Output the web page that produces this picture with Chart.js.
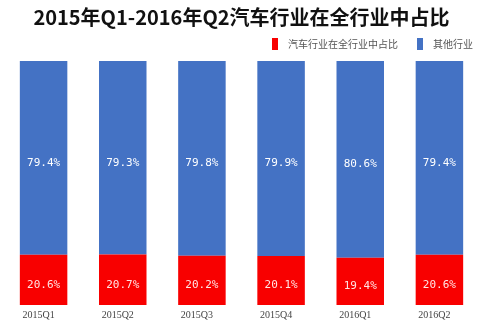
<!DOCTYPE html>
<html><head><meta charset="utf-8">
<script src="https://cdn.jsdelivr.net/npm/chart.js@4/dist/chart.umd.min.js"></script>
<style>html,body{margin:0;padding:0;background:#fff}#wrap{width:484px;height:324px}</style>
</head><body><div id="wrap"><canvas id="c" width="484" height="324"></canvas></div>
<script>
const categories = ['2015Q1','2015Q2','2015Q3','2015Q4','2016Q1','2016Q2'];
const autoShare = [20.6, 20.7, 20.2, 20.1, 19.4, 20.6];
const otherShare = [79.4, 79.3, 79.8, 79.9, 80.6, 79.4];
const seriesNames = ['汽车行业在全行业中占比', '其他行业'];
const seriesColors = ['#f80000', '#4472c4'];
const titleText = '2015年Q1-2016年Q2汽车行业在全行业中占比';

const labelPlugin = {
  id: 'barLabels',
  afterDatasetsDraw(chart) {
    const ctx = chart.ctx;
    ctx.save();
    ctx.font = '11px "DejaVu Sans Mono", monospace';
    ctx.textAlign = 'center';
    ctx.textBaseline = 'middle';
    chart.data.datasets.forEach((ds, di) => {
      const meta = chart.getDatasetMeta(di);
      meta.data.forEach((bar, i) => {
        const p = bar.getProps(['x','y','base'], true);
        ctx.fillStyle = di === 0 ? '#ffe4e4' : '#ffffff';
        ctx.fillText(ds.data[i].toFixed(1) + '%', p.x, (p.y + p.base) / 2 + 5);
      });
    });
    ctx.restore();
  }
};

const legendPlugin = {
  id: 'customLegend',
  afterDraw(chart) {
    const ctx = chart.ctx;
    ctx.save();
    ctx.font = '10px "Noto Sans CJK SC", serif';
    ctx.textBaseline = 'middle';
    ctx.textAlign = 'left';
    let x = chart.chartArea.right - 6;
    const y = 44;
    for (let i = chart.data.datasets.length - 1; i >= 0; i--) {
      const ds = chart.data.datasets[i];
      const w = ctx.measureText(ds.label).width;
      const tx = x - w;
      ctx.fillStyle = '#555';
      ctx.fillText(ds.label, tx, y);
      ctx.fillStyle = ds.backgroundColor;
      ctx.fillRect(tx - 16, y - 6, 6, 12);
      x = tx - 16 - 19;
    }
    ctx.restore();
  }
};

new Chart(document.getElementById('c'), {
  type: 'bar',
  data: {
    labels: categories,
    datasets: [
      { label: seriesNames[0], data: autoShare, backgroundColor: seriesColors[0] },
      { label: seriesNames[1], data: otherShare, backgroundColor: seriesColors[1] }
    ]
  },
  options: {
    responsive: false,
    animation: false,
    layout: { padding: { left: 4, right: 5, top: 2, bottom: -1 } },
    datasets: { bar: { barPercentage: 0.6, categoryPercentage: 1.0 } },
    plugins: {
      title: {
        display: true, text: titleText, color: '#111',
        font: { family: '"Noto Sans CJK SC", sans-serif', size: 20, weight: 'bold' },
        padding: { top: 3, bottom: 32 }
      },
      legend: { display: false },
      tooltip: { enabled: false }
    },
    scales: {
      x: {
        stacked: true,
        grid: { display: false, drawTicks: false },
        border: { display: false },
        ticks: { color: '#444', padding: 4, labelOffset: -5, font: { family: '"Liberation Serif", serif', size: 10 } }
      },
      y: { stacked: true, display: false, min: 0, max: 100 }
    }
  },
  plugins: [labelPlugin, legendPlugin]
});
</script></body></html>
